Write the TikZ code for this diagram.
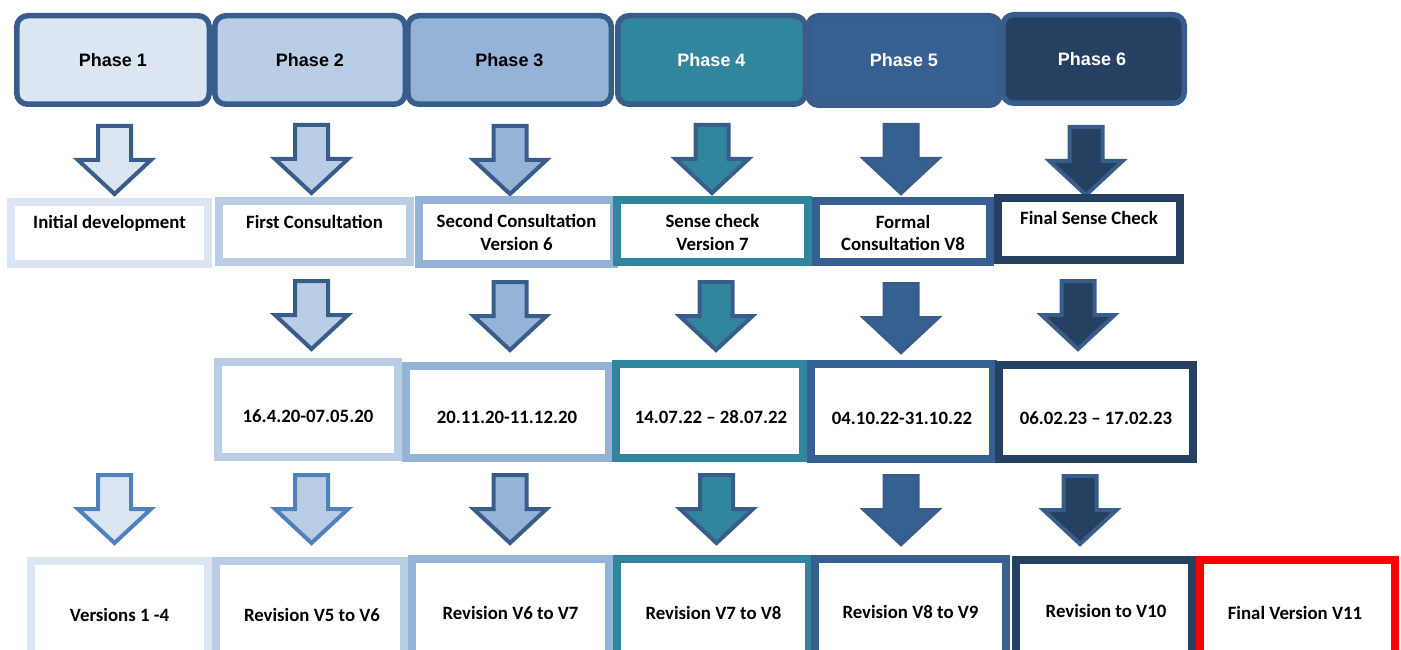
\documentclass[tikz,border=0pt]{standalone}
\usepackage{fontspec}
\setmainfont{Carlito}
\newfontfamily\arialf{Liberation Sans}
\definecolor{pa}{HTML}{DCE6F2}
\definecolor{pb}{HTML}{B9CDE5}
\definecolor{pc}{HTML}{95B3D7}
\definecolor{pd}{HTML}{31859C}
\definecolor{pe}{HTML}{376092}
\definecolor{pf}{HTML}{254061}
\definecolor{edge}{HTML}{385D8A}
\definecolor{edgelight}{HTML}{4F81BD}
\definecolor{finalred}{HTML}{FF0000}
\tikzset{
  phasebox/.style={line width=5.5pt, draw=edge, rounded corners=11pt},
  stagebox/.style={line width=8pt, fill=white},
  arrowshape/.style={line width=4pt, line join=miter},
  lbl/.style={anchor=base, align=center, font=\bfseries\fontsize{18.8}{22.5}\selectfont, inner sep=0pt},
  phlbl/.style={anchor=base, font=\arialf\bfseries\fontsize{18}{22}\selectfont, inner sep=0pt},
}
% cx, top, fill, border
\newcommand\dnarrow[4]{%
  \draw[arrowshape, fill=#3, draw=#4] (#1-16.5,#2+2) -- (#1+16.5,#2+2) -- (#1+16.5,#2+36)
    -- (#1+36.5,#2+36) -- (#1,#2+70) -- (#1-36.5,#2+36) -- (#1-16.5,#2+36) -- cycle;}
% x1, x2, y1, y2, colour
\newcommand\stg[5]{\draw[stagebox, draw=#5] (#1+4,#3+4) rectangle (#2-4,#4-4);}
\newcommand\phs[5]{\draw[phasebox, fill=#5] (#1+2.75,#3+2.75) rectangle (#2-2.75,#4-2.75);}
\begin{document}
\begin{tikzpicture}[x=1pt,y=-1pt]
\useasboundingbox (0,0) rectangle (1401,650);
\clip (0,0) rectangle (1401,650);
% phases
\phs{14}{212}{13}{107}{pa}
\phs{212}{408}{13}{107}{pb}
\phs{405}{614}{13}{107}{pc}
\phs{615}{808}{13}{107}{pd}
\phs{805}{1003}{13}{108}{pe}
\phs{1000}{1187}{12}{106}{pf}
\node[phlbl] (ph1) at (113,67) {Phase 1};
\node[phlbl] (ph2) at (310,67) {Phase 2};
\node[phlbl] (ph3) at (509.5,67) {Phase 3};
\node[phlbl, text=white] (ph4) at (711.5,67) {Phase 4};
\node[phlbl, text=white] (ph5) at (904,67) {Phase 5};
\node[phlbl, text=white] (ph6) at (1092,66) {Phase 6};
% row 1 arrows
\dnarrow{114.5}{124}{pa}{edge}
\dnarrow{311.5}{123}{pb}{edge}
\dnarrow{510}{124}{pc}{edge}
\dnarrow{712}{123}{pd}{edge}
\dnarrow{901}{123}{pe}{edge}
\dnarrow{1086}{125}{pf}{edge}
% row 1 boxes
\stg{7}{212}{198}{268}{pa}
\stg{215}{414}{197}{266}{pb}
\stg{415}{618}{196}{268}{pc}
\stg{613}{812}{196}{266}{pd}
\stg{812}{994}{197}{266}{pe}
\stg{994}{1184}{194}{264}{pf}
\node[lbl] (s1) at (109.5,229) {Initial development};
\node[lbl] (s2) at (314.5,228) {First Consultation};
\node[lbl] (s3) at (516.5,250) {Second Consultation\\Version 6};
\node[lbl] (s4) at (712.5,250) {Sense check\\Version 7};
\node[lbl] (s5) at (903,251) {Formal\\Consultation V8};
\node[lbl] (s6) at (1089,225) {Final Sense Check};
% row 2 arrows
\dnarrow{311.5}{279}{pb}{edge}
\dnarrow{510}{280}{pc}{edge}
\dnarrow{716}{280}{pd}{edge}
\dnarrow{901}{282}{pe}{edge}
\dnarrow{1078}{279}{pf}{edge}
% row 2 boxes
\stg{214}{402}{358}{461}{pb}
\stg{402}{613}{362}{462}{pc}
\stg{612}{807}{360}{462}{pd}
\stg{807}{997}{360}{463}{pe}
\stg{995}{1197}{361}{463}{pf}
\node[lbl] (d2) at (308,422) {16.4.20-07.05.20};
\node[lbl] (d3) at (507,423) {20.11.20-11.12.20};
\node[lbl] (d4) at (711,423) {14.07.22 – 28.07.22};
\node[lbl] (d5) at (902,424) {04.10.22-31.10.22};
\node[lbl] (d6) at (1096,424) {06.02.23 – 17.02.23};
% row 3 arrows
\dnarrow{114.5}{473}{pa}{edgelight}
\dnarrow{311.5}{473}{pb}{edgelight}
\dnarrow{510}{473}{pc}{edge}
\dnarrow{716.5}{473}{pd}{edge}
\dnarrow{901}{474}{pe}{edge}
\dnarrow{1080}{474}{pf}{edge}
% row 3 boxes
\stg{27}{212}{557}{665}{pa}
\stg{212}{408}{557}{665}{pb}
\stg{408}{613}{555}{665}{pc}
\stg{613}{813}{555}{665}{pd}
\stg{811}{1010}{555}{665}{pe}
\stg{1012}{1196}{556}{665}{pf}
\stg{1196}{1399}{556}{665}{finalred}
\node[lbl] (r1) at (119.5,621) {Versions 1 -4};
\node[lbl] (r2) at (312,621) {Revision V5 to V6};
\node[lbl] (r3) at (510.5,619) {Revision V6 to V7};
\node[lbl] (r4) at (713.5,619) {Revision V7 to V8};
\node[lbl] (r5) at (910.5,618) {Revision V8 to V9};
\node[lbl] (r6) at (1106,617) {Revision to V10};
\node[lbl] (r7) at (1295,619) {Final Version V11};
\end{tikzpicture}
\end{document}
